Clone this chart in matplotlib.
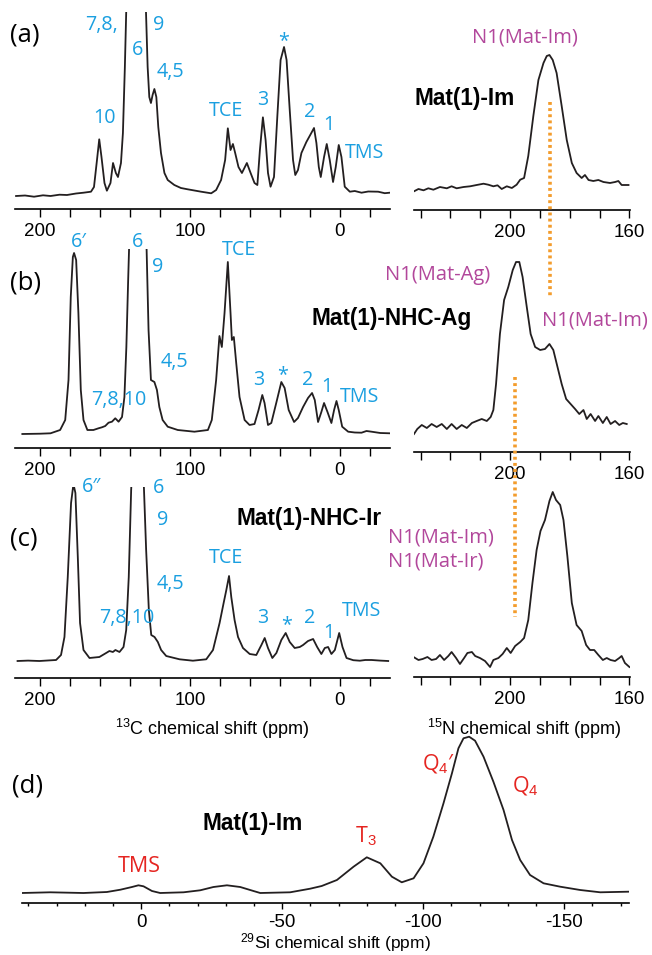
import matplotlib
matplotlib.use("Agg")
import matplotlib.pyplot as plt
from matplotlib.ticker import MultipleLocator, FixedLocator
from matplotlib.transforms import blended_transform_factory

# ---- 13C CP-MAS spectra (ppm, intensity) ----
c13_a_ppm = [216, 210, 204, 198, 193, 187, 182, 176, 171, 166, 164, 162, 160.5, 159, 157, 155.4, 153, 151.3,
             149.4, 148, 146, 144.7, 143.4, 142.5, 136, 129.3, 128.2, 127.1, 126, 124.9, 123.7, 122.4, 121.1,
             119.3, 117, 114.8, 110.4, 106, 101.5, 97, 92.5, 85.8, 82.5, 79.2, 76.5, 74.7, 72.9, 71.3, 69.8,
             67.6, 65.3, 62, 59.5, 56.9, 55, 53.3, 51.3, 49.5, 47.9, 46.2, 43.9, 41.7, 39.5, 37.2, 35.5, 33.4,
             31.2, 29.7, 27.9, 25.6, 22.3, 19, 17.2, 15.6, 14, 12.7, 10.5, 8.7, 6.7, 4.5, 2.7, 0.7, -1.1, -3.3,
             -6.7, -10, -14.5, -19, -25.6, -30, -33.4]
c13_a_int = [-1, -0.5, -1.7, -0.3, -1, 0.3, 0, 1.5, 2.3, 3.3, 8, 35, 55.7, 38, 12, 4.3, 12, 32,
             22, 18, 32, 62, 128, 183, 400, 183, 128, 98, 92, 100, 106, 98, 68,
             42, 22, 15, 10, 7, 5.7, 4.5, 3.3, 1.7, 5, 15, 35, 66.7, 45, 51, 42,
             28, 22, 32, 22, 12, 10, 45, 77.7, 55, 22, 8.3, 18, 78, 135, 148, 135, 85,
             35, 20, 25, 42, 53, 62, 67, 52, 28, 18, 38, 51, 35, 13, 28, 50, 38, 8.3,
             3.3, 4, 2.3, 3.5, 3.3, 1.8, 2.3]

c13_b_ppm = [211.8, 200, 193, 186.6, 183.2, 181, 179.5, 178.1, 177.3, 175.9, 174.4, 172.8, 171, 168.4, 164.4,
             161, 158.7, 156.5, 154.3, 152, 149.8, 147.6, 145.3, 143.7, 142.4, 141.2, 140.6, 136, 128.9, 127.6,
             126, 123.7, 122, 120.4, 118.2, 114.8, 108.1, 97, 88, 85.4, 82.5, 80.3, 78.7, 76.9, 74.7, 72.9,
             72, 70.7, 69.1, 66.9, 63.5, 60.2, 56.9, 54.2, 51.7, 50.2, 47.9, 45.7, 42.4, 39, 36.8, 34.1, 30.5,
             27.9, 24.5, 21.2, 18.5, 16.7, 14.5, 12.3, 10.5, 8.2, 5.6, 3.8, 2.2, 0.7, -1.6, -5.6, -10, -14.5,
             -17.8, -21.2, -27, -33.4]
c13_b_int = [0, 0.3, 0.7, 4, 14, 54, 137, 177, 181, 174, 121, 44, 14, 4, 4,
             5.7, 6.7, 8, 11.3, 12.3, 15.7, 12.3, 17, 37, 87, 154, 185, 300, 185, 104,
             54, 52, 44, 27, 14, 7.3, 4, 2.3, 4, 14, 54, 98, 87, 121, 172, 121,
             94, 97, 71, 37, 14, 9, 10, 24, 39, 31, 9, 11, 31, 52, 46, 24, 12,
             16, 27, 36, 41, 34, 12, 22, 31, 22, 11, 24, 33, 24, 7.3, 2.3, 1.5, 1.3,
             3, 2.3, 1, 0.7]

c13_c_ppm = [215, 208, 200.4, 195, 189.3, 186, 183.7, 181.5, 179.3, 177.7, 176.4, 174.8, 173.3, 171, 167,
             160.4, 155.9, 153.7, 151.4, 149.7, 147, 144.3, 142.5, 140.8, 139.2, 135, 130.7, 129.2, 127.4,
             125.8, 123.6, 121.4, 119.2, 115.8, 106.9, 98, 89.1, 84.6, 80.2, 77.5, 75.7, 73.9, 72.4, 70.2,
             67.9, 64.6, 60.1, 55.7, 52.3, 50.1, 47.9, 45, 42.3, 39, 36.1, 33.4, 30.1, 26.7, 24.5, 21.2, 17.8,
             15.1, 12.3, 10, 7.8, 5.6, 3.3, 0.4, -1.8, -4.5, -9, -13.4, -17, -21.2, -27, -32.3]
c13_c_int = [0, 0.4, 0, 0.5, 1, 6, 24, 84, 158, 177, 168, 104, 38, 11, 3,
             4, 8, 10, 9, 11, 9, 14, 31, 84, 171, 300, 174, 111, 51,
             26, 24, 19, 11, 5, 1.7, 0.3, 1.7, 11, 38, 58, 71, 85, 64, 41,
             24, 13, 7, 6, 16, 23, 13, 3, 8, 21, 28, 19, 13, 14, 16, 20, 22,
             14, 7, 13, 14, 7, 11, 28, 14, 3, 0.8, 0.3, 1, 1, 0.4, 0]

# ---- 15N spectra ----
n15_a_ppm = [232.2, 230.7, 229, 227.4, 225.7, 223.5, 221.2, 219.6, 217.9, 215.6, 213.4, 211.2, 208.9, 207.3,
             205.6, 204.2, 202.8, 201.1, 199.4, 197.8, 196.6, 195.3, 193.9, 192.2, 190.5, 188.8, 187.7, 186.8,
             185.7, 184.4, 182.7, 181, 179.3, 177.7, 176, 174.9, 173.7, 172.1, 170.4, 168.7, 166.5, 164.8,
             163.7, 162.6, 160.3]
n15_a_int = [-2.3, 0, -1.3, 0.7, -0.7, 2, 0.7, 2.7, 0.7, 2, 2.7, 4, 5.3, 4.3,
             2.7, 3.7, 0, 2.7, 1, 4.3, 9.3, 11, 33, 73, 109, 126, 133, 134,
             129, 116, 83, 49, 26, 16, 11, 14, 9, 8, 9, 7, 6, 7,
             8, 4, 4]

n15_b_ppm = [232.2, 231.1, 229.6, 227.9, 226.3, 224.6, 222.9, 221.2, 219.6, 217.9, 216.2, 214.5, 212.8, 211.2,
             209.5, 207.8, 206.5, 205.6, 204.7, 203.4, 202, 200.6, 199.1, 198, 196.9, 195.8, 194.4, 193.1,
             191.6, 189.9, 188.3, 186.8, 185.5, 184.1, 182.7, 181.2, 179.7, 178.2, 176.8, 175.4, 174.3, 173,
             171.5, 170.4, 168.9, 167.6, 166.3, 164.8, 163.4, 162.2, 160.9]
n15_b_int = [-7, -2, 2, -1, 3, 0, 3, -2, 3, -2, 2, -1, 4, 6,
             8, 6, 10, 17, 43, 93, 127, 140, 157, 165, 165, 150, 120, 93,
             80, 77, 78, 83, 77, 60, 43, 28, 23, 18, 13, 17, 8, 13,
             6, 11, 4, 10, 3, 6, 2, 4, 3]

n15_c_ppm = [232.2, 230.7, 229.3, 227.7, 226.3, 224.8, 223.5, 222.1, 220.7, 219.6, 218.1, 216.8, 215.4, 214.3,
             212.8, 211.7, 210.1, 208.4, 206.7, 205.6, 203.9, 202.5, 201.1, 199.8, 198.3, 196.6, 195.3, 193.9,
             192.5, 191.1, 189.8, 188.3, 186.8, 185.7, 184.6, 183.2, 182.1, 180.8, 179.3, 177.7, 176, 174.5,
             173.2, 171.8, 170.4, 168.9, 167.6, 166.3, 164.8, 163.4, 162.6, 161.5, 160]
n15_c_int = [0.7, -2, -1, 1, -2, -1, 3, -2, 2, 6, 0, -6, 0, 5,
             6, 2, 0, -3, -9, -2, 0, 4, 10, 5, 12, 16, 20, 38,
             75, 108, 127, 138, 157, 166, 158, 153, 138, 102, 55, 33, 27, 13,
             8, 8, 3, -2, 0, -2, -3, 0, 2, -5, -9]

# ---- 29Si spectrum ----
si_ppm = [42.3, 32.3, 20.5, 12.2, 7.4, 3.3, 1, -0.8, -3.8, -6.7, -15, -20.9, -25.6, -30.4, -35.1, -39.8,
          -42.2, -52.8, -59.9, -64, -69.4, -75.3, -80, -84.8, -88.9, -92.4, -96.6, -100.1, -103.6, -107.2,
          -110.2, -112.5, -114.3, -116.3, -118.4, -121.4, -124.9, -128.5, -131.5, -134.4, -137.9, -142.7,
          -148.6, -155.7, -162.8, -172.8]
si_int = [0, 0.7, 0, 1, 3.3, 6, 7.7, 6.7, 2, 0, 0.7, 2.7, 6, 7.7, 6, 2,
          0, 0.7, 4.3, 7, 13, 26.3, 35.7, 29.7, 16.3, 10.7, 14.7, 29.7, 56.3, 89.7,
          119.7, 144.7, 154.7, 156.3, 152.3, 136.3, 111.3, 83, 53, 33, 18, 9.7,
          6.3, 3, 0.7, 1.3]

# orange guide lines: ppm position, top and bottom (pixels)
guide_a = (186.6, 102, 297)
guide_b = (198.3, 377, 617)

W, H = 652, 955
BLUE = "#1A9FE0"
PURPLE = "#B2479B"
RED = "#E52521"
ORANGE = "#F39C2C"
LINE = "#231F20"

plt.rcParams["axes.unicode_minus"] = False
plt.rcParams["mathtext.fontset"] = "custom"
plt.rcParams["mathtext.rm"] = "Liberation Sans"
plt.rcParams["mathtext.it"] = "Liberation Sans:italic"
plt.rcParams["mathtext.bf"] = "Liberation Sans:bold"

SANS = ["Liberation Sans", "DejaVu Sans"]
MYR = ["Open Sans", "DejaVu Sans"]

fig = plt.figure(figsize=(W / 100, H / 100), dpi=100)


def box(x0, x1, ytop, ybot):
    return [x0 / W, 1 - ybot / H, (x1 - x0) / W, (ybot - ytop) / H]


def put(x, y, s, color="k", size=13, family=MYR, weight="normal", ha="left"):
    fig.text(x / W, 1 - y / H, s, color=color, fontsize=size, family=family,
             fontweight=weight, ha=ha, va="baseline")


def spec_axes(rect, xlim, ylim):
    ax = fig.add_axes(rect)
    ax.set_xlim(*xlim)
    ax.set_ylim(*ylim)
    for s in ["top", "left", "right"]:
        ax.spines[s].set_visible(False)
    ax.spines["bottom"].set_linewidth(1.2)
    ax.set_yticks([])
    ax.patch.set_alpha(0)
    ax.tick_params(axis="x", which="both", direction="out", width=1.0, length=6, pad=4,
                   labelsize=13.5)
    return ax


def finish_ticks(ax, major, minor_step):
    ax.xaxis.set_major_locator(FixedLocator(major))
    ax.xaxis.set_minor_locator(MultipleLocator(minor_step))
    ax.set_xticklabels([str(m) for m in major], family=SANS, fontsize=13.5)


# 13C panels
c13 = [
    (c13_a_ppm, c13_a_int, 12, 209, (-14, 183)),
    (c13_b_ppm, c13_b_int, 249, 448, (-14, 185)),
    (c13_c_ppm, c13_c_int, 487, 678, (-17, 174)),
]
for ppm, inten, top, bot, yl in c13:
    ax = spec_axes(box(15, 390, top, bot), (216.7, -33.5), yl)
    ax.plot(ppm, inten, color=LINE, lw=1.3)
    finish_ticks(ax, [200, 100, 0], 20)

# 15N panels
n15 = [
    (n15_a_ppm, n15_a_int, 40, 210, (-21, 149), guide_a),
    (n15_b_ppm, n15_b_int, 240, 452, (-25, 187), guide_b),
    (n15_c_ppm, n15_c_int, 470, 677, (-19, 188), None),
]
for ppm, inten, top, bot, yl, guide in n15:
    ax = spec_axes(box(414, 630, top, bot), (232.2, 159.8), yl)
    ax.plot(ppm, inten, color=LINE, lw=1.3)
    finish_ticks(ax, [200, 160], 10)
    if guide is not None:
        tr = blended_transform_factory(ax.transData, fig.transFigure)
        ax.plot([guide[0], guide[0]], [1 - guide[1] / H, 1 - guide[2] / H], transform=tr,
                color=ORANGE, lw=2.6, ls=(0, (0.8, 0.9)), clip_on=False, zorder=5)

# 29Si panel
ax = spec_axes(box(22, 629, 722, 903), (42.3, -173), (-10, 171))
ax.plot(si_ppm, si_int, color=LINE, lw=1.3)
ax.xaxis.set_major_locator(FixedLocator([0, -50, -100, -150]))
ax.xaxis.set_minor_locator(MultipleLocator(10))
ax.set_xticklabels(["0", "-50", "-100", "-150"], family=SANS, fontsize=13.5)
ax.tick_params(axis="x", which="major", length=4, pad=4)
ax.tick_params(axis="x", which="minor", length=2)

# panel letters
for x, y, s in [(10, 42, "(a)"), (10, 290, "(b)"), (10, 545, "(c)"), (12, 792, "(d)")]:
    put(x, y, s, size=18.5)

# 13C peak labels
peak_labels = [
    # (a)
    (93, 123, "10"), (85, 30, "7,8,"), (132, 55, "6"), (153, 30, "9"), (157, 77, "4,5"),
    (209, 116, "TCE"), (257, 105, "3"), (278, 46, "*"), (304, 117, "2"), (323, 130, "1"),
    (345, 158, "TMS"),
    # (b)
    (71, 247, "6\u2032"), (132, 247, "6"), (152, 272, "9"), (161, 367, "4,5"), (91, 405, "7,8,10"),
    (222, 255, "TCE"), (253, 385, "3"), (277, 380, "*"), (302, 385, "2"), (321, 392, "1"),
    (340, 402, "TMS"),
    # (c)
    (82, 492, "6\u2033"), (153, 493, "6"), (157, 525, "9"), (157, 589, "4,5"), (99, 623, "7,8,10"),
    (209, 563, "TCE"), (257, 623, "3"), (281, 630, "*"), (304, 623, "2"), (323, 638, "1"),
    (342, 616, "TMS"),
]
for x, y, s in peak_labels:
    put(x, y, s, color=BLUE, size=14.2)

# 15N labels
for x, y, s in [(472, 42, "N1(Mat-Im)"), (385, 280, "N1(Mat-Ag)"), (542, 325, "N1(Mat-Im)"),
                (388, 542, "N1(Mat-Im)"), (388, 567, "N1(Mat-Ir)")]:
    put(x, y, s, color=PURPLE, size=14.5)

# sample names
put(415, 105, "Mat(1)-Im", size=16.3, family=SANS, weight="bold")
put(472, 325, "Mat(1)-NHC-Ag", size=16.3, family=SANS, weight="bold", ha="right")
put(237, 525, "Mat(1)-NHC-Ir", size=16.3, family=SANS, weight="bold")
put(203, 830, "Mat(1)-Im", size=16.3, family=SANS, weight="bold")

# 29Si labels
put(118, 872, "TMS", color=RED, size=15.5)
put(355, 842, "T$_3$", color=RED, size=15.5)
put(422, 770, "Q$_4$\u2032", color=RED, size=15.5)
put(512, 792, "Q$_4$", color=RED, size=15.5)

# axis titles
put(212, 735, "$^{13}$C chemical shift (ppm)", size=13, family=SANS, ha="center")
put(524, 735, "$^{15}$N chemical shift (ppm)", size=13, family=SANS, ha="center")
put(335, 948, "$^{29}$Si chemical shift (ppm)", size=12.5, family=SANS, ha="center")

fig.savefig("out.png", dpi=100)
